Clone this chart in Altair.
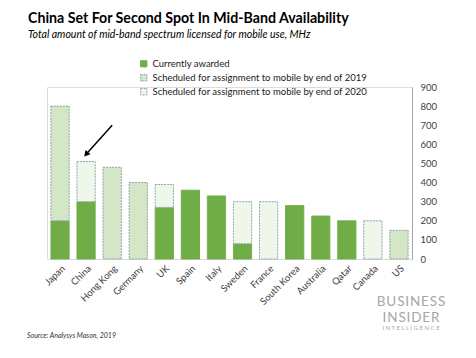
import altair as alt
import pandas as pd

countries = ["Japan", "China", "Hong Kong", "Germany", "UK", "Spain", "Italy",
             "Sweden", "France", "South Korea", "Australia", "Qatar", "Canada", "US"]
awarded = [200, 300, 0, 0, 270, 360, 330, 80, 0, 280, 225, 200, 0, 0]
by_2019 = [600, 0, 480, 400, 0, 0, 0, 0, 0, 0, 0, 0, 0, 150]
by_2020 = [0, 210, 0, 0, 120, 0, 0, 220, 300, 0, 0, 0, 200, 0]
series_names = ["Currently awarded",
                "Scheduled for assignment to mobile by end of 2019",
                "Scheduled for assignment to mobile by end of 2020"]
y_ticks = [0, 100, 200, 300, 400, 500, 600, 700, 800, 900]

rows = []
for i, c in enumerate(countries):
    for k, vals in enumerate([awarded, by_2019, by_2020]):
        if vals[i] > 0:
            rows.append({"country": c, "series": series_names[k], "value": vals[i], "k": k})
df = pd.DataFrame(rows)

FONT = "Lato"
W, H = 365, 172

xscale = alt.Scale(domain=countries, paddingInner=0.3, paddingOuter=0.15)
yscale = alt.Scale(domain=[0, 900], nice=False)
xaxis = alt.Axis(title=None, labelAngle=-45, labelAlign="right", labelBaseline="top",
                 ticks=False, domainColor="#d9d9d9", labelColor="#404040",
                 labelFontSize=9.5, labelFont=FONT, labelPadding=4)
yaxis = alt.Axis(title=None, orient="right", values=y_ticks, grid=False, ticks=False,
                 labelOverlap=False, domainColor="#a6a6a6", labelColor="#404040",
                 labelFontSize=9.5, labelFont=FONT, labelPadding=8)

leg = dict(title=None, orient="none", legendX=92, legendY=-28, symbolType="square", symbolSize=40,
           labelFontSize=9.5, labelFont=FONT, labelColor="#1a1a1a", rowPadding=3, labelLimit=0,
           symbolStrokeWidth=1)

bars = alt.Chart(df).mark_bar(strokeWidth=1).encode(
    x=alt.X("country:N", scale=xscale, axis=xaxis),
    y=alt.Y("value:Q", stack="zero", scale=yscale, axis=yaxis),
    color=alt.Color("series:N", sort=series_names,
                    scale=alt.Scale(domain=series_names, range=["#70AD47", "#D3E6C5", "#EFF6EA"]),
                    legend=alt.Legend(**leg)),
    stroke=alt.Stroke("series:N", sort=series_names,
                      scale=alt.Scale(domain=series_names, range=["#70AD47", "#8fa3b0", "#8fa3b0"]),
                      legend=alt.Legend(**leg)),
    strokeDash=alt.StrokeDash("series:N", sort=series_names,
                              scale=alt.Scale(domain=series_names, range=[[1, 0], [2, 1], [2, 1]]),
                              legend=alt.Legend(**leg)),
    order=alt.Order("k:Q"),
)

arrow_df = pd.DataFrame({"x1": ["Hong Kong"], "x2": ["China"], "y1": [700], "y2": [548]})
arrow_line = alt.Chart(arrow_df).mark_rule(color="#000000", strokeWidth=1.5).encode(
    x=alt.X("x1:N", scale=xscale, axis=xaxis), x2="x2:N",
    y=alt.Y("y1:Q", scale=yscale, axis=yaxis), y2="y2:Q")
arrow_head = alt.Chart(arrow_df).mark_point(shape="triangle-up", filled=True, color="#000000",
                                            size=45, angle=221, opacity=1).encode(
    x=alt.X("x2:N", scale=xscale, axis=xaxis), y=alt.Y("y2:Q", scale=yscale, axis=yaxis))

def txt(t, x, y, size, weight="normal", style="normal", color="#000000", align="left", font=FONT):
    return alt.Chart(pd.DataFrame({"t": [t]})).mark_text(
        align=align, baseline="middle", fontSize=size, fontWeight=weight, fontStyle=style,
        color=color, font=font).encode(text="t:N", x=alt.value(x), y=alt.value(y))

title = txt("China Set For Second Spot In Mid-Band Availability", -19, -68, 14.2, weight="bold")
subtitle = txt("Total amount of mid-band spectrum licensed for mobile use, MHz", -19, -52, 10.5,
               style="italic")
source = txt("Source: Analysys Mason, 2019", -20, 249, 7, style="italic", color="#333333")
logo1 = txt("B\u200aU\u200aS\u200aI\u200aN\u200aE\u200aS\u200aS", 364, 215, 13.5, color="#a6a6a6",
            align="center")
logo2 = txt("I\u200aN\u200aS\u200aI\u200aD\u200aE\u200aR", 364, 231, 13.5, color="#a6a6a6",
            align="center")
logo3 = txt("I N T E L L I G E N C E", 364, 241, 6, color="#a6a6a6", align="center")

chart = alt.layer(bars, arrow_line, arrow_head, title, subtitle, source, logo1, logo2, logo3).properties(
    width=W, height=H,
    autosize=alt.AutoSizeParams(type="none"),
    padding={"left": 39, "top": 79, "right": 50, "bottom": 90},
).configure_view(stroke=None).configure(font=FONT)

chart.save("out.html", embed_options={"renderer": "svg", "actions": False})
